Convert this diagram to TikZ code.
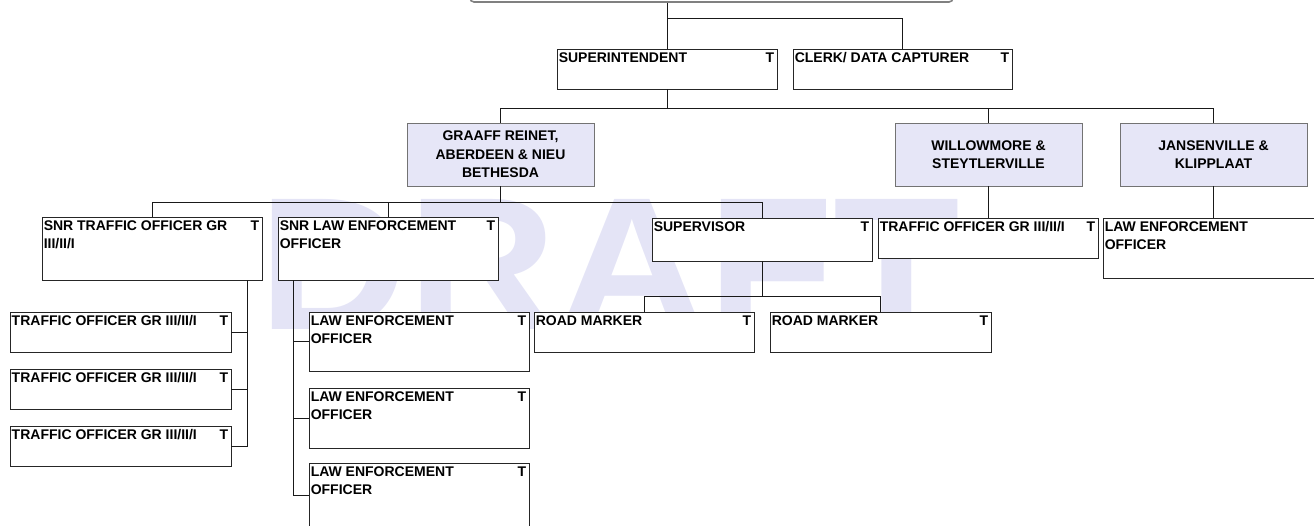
\documentclass[tikz,border=0pt]{standalone}
\usepackage{fontspec}
\setmainfont{Liberation Sans}
\usetikzlibrary{fit,calc}
\definecolor{lav}{RGB}{230,230,247}
\definecolor{wmcol}{RGB}{228,228,246}
\newcommand\mystrut{\rule{0pt}{11pt}}
\newcommand\Ltext[2]{\node[lbl,anchor=north west] (#1-l) at ([shift={(2pt,-3pt)}]#1.north west) {\mystrut #2};}
\newcommand\Tmark[1]{\node[lbl,anchor=north east] (#1-t) at ([shift={(-3pt,-3pt)}]#1.north east) {\mystrut T};}
\begin{document}
\begin{tikzpicture}[x=1pt,y=-1pt,
  box/.style={draw=black!85, line width=0.9pt, fill=white, inner sep=0pt},
  region/.style={draw=black!55, line width=0.9pt, fill=lav, inner sep=0pt},
  lbl/.style={inner sep=0pt, font=\fontsize{14}{18}\selectfont\bfseries, align=left},
  clbl/.style={inner sep=0pt, font=\fontsize{14}{18.5}\selectfont\bfseries, align=center},
  conn/.style={draw=black!90, line width=0.9pt}]
\useasboundingbox (0,0) rectangle (1314,525);
\clip (0,0) rectangle (1314,525);
% watermark
\node[anchor=south west, inner sep=0pt, text=wmcol] (wm) at (258,330) {\resizebox{702pt}{130pt}{\bfseries DRAFT}};
% top frame
\node[draw=black!50, line width=1.6pt, rounded corners=4pt, inner sep=0pt, fit={(470,-30)(953,2)}] (top) {};
% level 1
\node[box, fit={(557,49)(777,89)}] (sup) {};
\node[box, fit={(793,49)(1012,89)}] (clerk) {};
% regions
\node[region, fit={(407,123)(594,186)}] (graaff) {};
\node[region, fit={(895,123)(1082,186)}] (willow) {};
\node[region, fit={(1120,123)(1307,186)}] (jansen) {};
% level 3
\node[box, fit={(42,217)(262,280)}] (snrt) {};
\node[box, fit={(278,217)(498,280)}] (snrl) {};
\node[box, fit={(652,218)(872,261)}] (supv) {};
\node[box, fit={(878,218)(1098,258)}] (tw) {};
\node[box, fit={(1103,218)(1330,278)}] (jle) {};
% level 4
\node[box, fit={(10,312)(231,352)}] (to1) {};
\node[box, fit={(10,369)(231,409)}] (to2) {};
\node[box, fit={(10,426)(231,466)}] (to3) {};
\node[box, fit={(309,312)(529,371)}] (le1) {};
\node[box, fit={(309,388)(529,448)}] (le2) {};
\node[box, fit={(309,463)(529,527)}] (le3) {};
\node[box, fit={(534,312)(754,352)}] (rm1) {};
\node[box, fit={(770,312)(991,352)}] (rm2) {};
% labels
\Ltext{sup}{SUPERINTENDENT}\Tmark{sup}
\Ltext{clerk}{CLERK/ DATA CAPTURER}\Tmark{clerk}
\node[clbl] (graaff-l) at (graaff.center) {GRAAFF REINET,\\ABERDEEN \& NIEU\\BETHESDA};
\node[clbl] (willow-l) at (willow.center) {WILLOWMORE \&\\STEYTLERVILLE};
\node[clbl] (jansen-l) at (jansen.center) {JANSENVILLE \&\\KLIPPLAAT};
\Ltext{snrt}{SNR TRAFFIC OFFICER GR\\III/II/I}\Tmark{snrt}
\Ltext{snrl}{SNR LAW ENFORCEMENT\\OFFICER}\Tmark{snrl}
\Ltext{supv}{SUPERVISOR}\Tmark{supv}
\Ltext{tw}{TRAFFIC OFFICER GR III/II/I}\Tmark{tw}
\Ltext{jle}{LAW ENFORCEMENT\\OFFICER}
\Ltext{to1}{TRAFFIC OFFICER GR III/II/I}\Tmark{to1}
\Ltext{to2}{TRAFFIC OFFICER GR III/II/I}\Tmark{to2}
\Ltext{to3}{TRAFFIC OFFICER GR III/II/I}\Tmark{to3}
\Ltext{le1}{LAW ENFORCEMENT\\OFFICER}\Tmark{le1}
\Ltext{le2}{LAW ENFORCEMENT\\OFFICER}\Tmark{le2}
\Ltext{le3}{LAW ENFORCEMENT\\OFFICER}\Tmark{le3}
\Ltext{rm1}{ROAD MARKER}\Tmark{rm1}
\Ltext{rm2}{ROAD MARKER}\Tmark{rm2}
% connectors
\coordinate (b0) at (668,18);
\coordinate (b1) at (667,108);
\coordinate (b2) at (500,202);
\coordinate (b3) at (762,296);
\coordinate (v1) at (247,280);
\coordinate (v2) at (293,280);
\draw[conn] (top.south -| sup.north) -- (sup.north);
\draw[conn] (b0) -| (clerk.north);
\draw[conn] (sup.south) -- (sup.south |- b1);
\draw[conn] (graaff.north) -- (graaff.north |- b1) -- (jansen.north |- b1) -- (jansen.north);
\draw[conn] (willow.north) -- (willow.north |- b1);
\draw[conn] (graaff.south) -- (graaff.south |- b2);
\draw[conn] (snrt.north) -- (snrt.north |- b2) -- (supv.north |- b2) -- (supv.north);
\draw[conn] (snrl.north) -- (snrl.north |- b2);
\draw[conn] (willow.south) -- (willow.south |- tw.north);
\draw[conn] (jansen.south) -- (jansen.south |- jle.north);
\draw[conn] (supv.south) -- (supv.south |- b3);
\draw[conn] (rm1.north) -- (rm1.north |- b3) -- (rm2.north |- b3) -- (rm2.north);
\draw[conn] (v1) |- (to3.east);
\draw[conn] (to1.east) -- (to1.east -| v1);
\draw[conn] (to2.east) -- (to2.east -| v1);
\draw[conn] (v2) |- (le3.west);
\draw[conn] (le1.west) -- (le1.west -| v2);
\draw[conn] (le2.west) -- (le2.west -| v2);
\end{tikzpicture}
\end{document}
